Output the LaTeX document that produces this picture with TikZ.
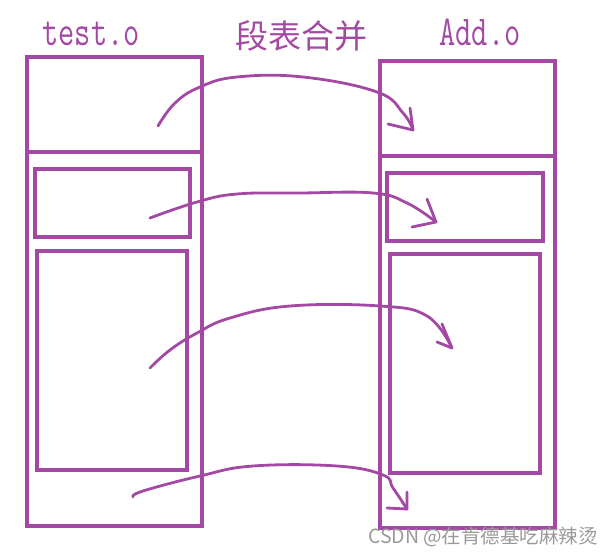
\documentclass[tikz,border=0pt]{standalone}
\usepackage{fontspec}
\newfontfamily\cjk{Noto Sans CJK SC}
\definecolor{paintpurple}{RGB}{163,73,164}

\begin{document}
\begin{tikzpicture}[x=1pt, y=-1pt,
  outerbox/.style={draw=paintpurple, line width=4.6pt},
  innerbox/.style={draw=paintpurple, line width=4pt},
  stroke/.style={paintpurple, line width=2.8pt, line cap=round, line join=round},
  filename/.style={paintpurple, anchor=base, yscale=1.35, font=\ttfamily\fontsize{31.5}{31.5}\selectfont}]

\useasboundingbox (0,0) rectangle (614,555);

% test.o
\draw[outerbox] (27,57) rectangle (202,526);
\draw[outerbox] (27,152) -- (202,152);
\draw[innerbox] (35,169) rectangle (190,237);
\draw[innerbox] (37,251) rectangle (187,470);

% Add.o
\draw[outerbox] (380,61) rectangle (555,528);
\draw[outerbox] (380,156) -- (555,156);
\draw[innerbox] (387,173) rectangle (543,241);
\draw[innerbox] (390,254) rectangle (540,473);

\node[filename] (testname) at (91,45) {test.o};
\node[filename] (addname) at (480,45) {Add.o};
\node[paintpurple, anchor=base, font=\cjk\fontsize{33}{33}\selectfont] (merge) at (301,48) {段表合并};

\coordinate (s1) at (158,126); \coordinate (e1) at (413,130);
\coordinate (s2) at (150,218); \coordinate (e2) at (436,222);
\coordinate (s3) at (150,368); \coordinate (e3) at (452,348);
\coordinate (s4) at (133,497); \coordinate (e4) at (407,509);

\draw[stroke] plot[smooth, tension=0.7] coordinates {(s1) (175,103) (200,87) (237,77) (303,77) (377,92) (403,113) (e1)};
\draw[stroke] (388,124) -- (e1) -- (410,108);

\draw[stroke] plot[smooth, tension=0.7] coordinates {(s2) (197,202) (237,194) (300,193) (373,193) (407,203) (e2)};
\draw[stroke] (412,227) -- (e2) -- (427,199);

\draw[stroke] plot[smooth, tension=0.7] coordinates {(s3) (170,350) (197,333) (230,318) (290,306) (380,306) (427,316) (e3)};
\draw[stroke] (437,342) -- (e3) -- (442,324);

\draw[stroke] plot[smooth, tension=0.7] coordinates {(s4) (143,491) (200,476) (253,466) (337,466) (383,475) (393,488) (e4)};
\draw[stroke] (387,508) -- (e4) -- (407,492);

\node[gray!80, anchor=base, font=\cjk\fontsize{19.5}{19.5}\selectfont] (mark) at (483,543) {CSDN @在肯德基吃麻辣烫};

\end{tikzpicture}
\end{document}
